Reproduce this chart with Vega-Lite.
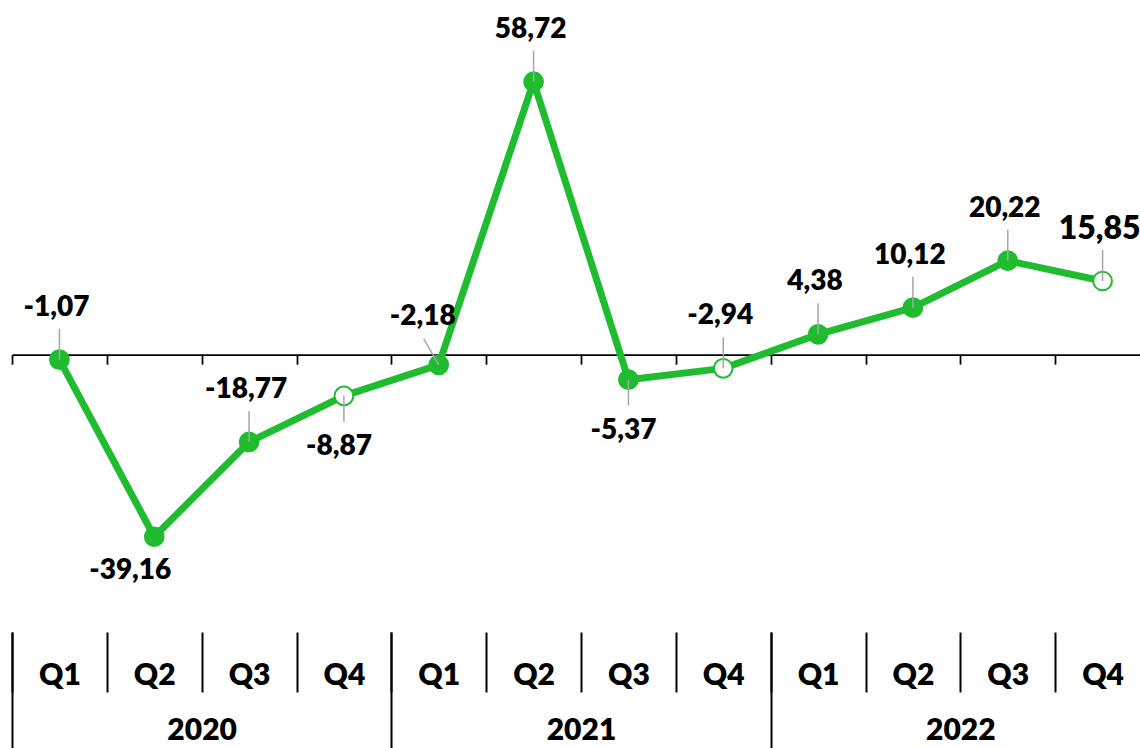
{
  "$schema": "https://vega.github.io/schema/vega-lite/v6.json",
  "width": 1140,
  "height": 632,
  "autosize": {"type": "none"},
  "padding": {"left": 0, "top": 0, "right": 0, "bottom": 116},
  "background": "white",
  "config": {
    "view": {"stroke": null},
    "font": "Lato",
    "locale": {"number": {"decimal": ",", "thousands": ".", "grouping": [3], "currency": ["", " €"], "minus": "-"}}
  },
  "data": {
    "values": [
      {"period": "2020-Q1", "year": "2020", "quarter": "Q1", "value": -1.07, "pos": "above"},
      {"period": "2020-Q2", "year": "2020", "quarter": "Q2", "value": -39.16, "pos": "below-left"},
      {"period": "2020-Q3", "year": "2020", "quarter": "Q3", "value": -18.77, "pos": "above"},
      {"period": "2020-Q4", "year": "2020", "quarter": "Q4", "value": -8.87, "pos": "below"},
      {"period": "2021-Q1", "year": "2021", "quarter": "Q1", "value": -2.18, "pos": "above-left"},
      {"period": "2021-Q2", "year": "2021", "quarter": "Q2", "value": 58.72, "pos": "above"},
      {"period": "2021-Q3", "year": "2021", "quarter": "Q3", "value": -5.37, "pos": "below"},
      {"period": "2021-Q4", "year": "2021", "quarter": "Q4", "value": -2.94, "pos": "above"},
      {"period": "2022-Q1", "year": "2022", "quarter": "Q1", "value": 4.38, "pos": "above"},
      {"period": "2022-Q2", "year": "2022", "quarter": "Q2", "value": 10.12, "pos": "above"},
      {"period": "2022-Q3", "year": "2022", "quarter": "Q3", "value": 20.22, "pos": "above"},
      {"period": "2022-Q4", "year": "2022", "quarter": "Q4", "value": 15.85, "pos": "above"}
    ]
  },
  "resolve": {"scale": {"x": "independent"}, "axis": {"x": "independent"}},
  "layer": [
    {
      "mark": {"type": "point", "opacity": 0},
      "encoding": {
        "x": {
          "field": "year", "type": "nominal", "sort": null,
          "scale": {"type": "band", "range": [12, 1150], "paddingInner": 0, "paddingOuter": 0},
          "axis": {
            "orient": "bottom", "offset": 0, "title": null, "grid": false, "domain": false,
            "ticks": true, "tickBand": "extent", "tickSize": 116, "tickWidth": 2, "tickColor": "#000000",
            "labelFont": "Lato", "labelFontWeight": 800, "labelFontSize": 30, "labelColor": "#000000",
            "labelAngle": 0, "labelBaseline": "middle", "labelPadding": -18, "labelOverlap": false
          }
        }
      }
    },
    {
      "mark": {"type": "point", "opacity": 0},
      "encoding": {
        "x": {
          "field": "period", "type": "nominal", "sort": null,
          "scale": {"type": "band", "range": [12, 1150], "paddingInner": 0, "paddingOuter": 0},
          "axis": {
            "orient": "bottom", "offset": 0, "title": null, "grid": false, "domain": false,
            "ticks": true, "tickBand": "extent", "tickSize": 60, "tickWidth": 2, "tickColor": "#000000",
            "labelExpr": "substring(datum.label, 5)",
            "labelFont": "Lato", "labelFontWeight": 800, "labelFontSize": 30, "labelColor": "#000000",
            "labelAngle": 0, "labelBaseline": "middle", "labelPadding": -17, "labelOverlap": false
          }
        }
      }
    },
    {
      "encoding": {
        "x": {
          "field": "period", "type": "nominal", "sort": null,
          "scale": {"type": "band", "range": [12, 1150], "paddingInner": 0, "paddingOuter": 0},
          "axis": {
            "orient": "bottom", "offset": -277.3, "title": null, "grid": false,
            "domain": true, "domainColor": "#000000", "domainWidth": 1.75,
            "ticks": true, "tickBand": "extent", "tickSize": 9.5, "tickWidth": 1.75, "tickColor": "#000000",
            "labels": false
          }
        },
        "y": {
          "field": "value", "type": "quantitative",
          "scale": {"domain": [-59.65, 76.3], "nice": false, "zero": false},
          "axis": null
        }
      },
      "layer": [
        {"mark": {"type": "line", "color": "#1FBC30", "strokeWidth": 7, "strokeJoin": "round"}},
        {
          "mark": {"type": "point", "shape": "circle", "filled": true, "size": 350, "stroke": "#1FBC30", "strokeWidth": 2, "opacity": 1},
          "encoding": {
            "fill": {"condition": {"test": "datum.quarter === 'Q4'", "value": "#ffffff"}, "value": "#1FBC30"}
          }
        },
        {
          "transform": [{"filter": "datum.pos === 'above'"}],
          "mark": {"type": "point", "shape": "M0,0L0,-1", "filled": false, "size": 3844, "stroke": "#A6A6A6", "strokeWidth": 1.5, "opacity": 1}
        },
        {
          "transform": [{"filter": "datum.pos === 'below'"}],
          "mark": {"type": "point", "shape": "M0,0L0,1", "filled": false, "size": 2704, "stroke": "#A6A6A6", "strokeWidth": 1.5, "opacity": 1}
        },
        {
          "transform": [{"filter": "datum.pos === 'above-left'"}],
          "mark": {"type": "point", "shape": "M0,0L-0.5,-0.866", "filled": false, "size": 3600, "stroke": "#A6A6A6", "strokeWidth": 1.5, "opacity": 1}
        },
        {
          "transform": [{"filter": "datum.pos === 'above'"}],
          "mark": {"type": "text", "font": "Lato", "fontWeight": 800, "color": "#000000", "align": "center", "baseline": "middle", "dx": -3, "dy": -52},
          "encoding": {
            "text": {"field": "value", "type": "quantitative", "format": ".2f"},
            "size": {"condition": {"test": "datum.period === '2022-Q4'", "value": 32}, "value": 28}
          }
        },
        {
          "transform": [{"filter": "datum.pos === 'above-left'"}],
          "mark": {"type": "text", "font": "Lato", "fontWeight": 800, "fontSize": 28, "color": "#000000", "align": "center", "baseline": "middle", "dx": -16, "dy": -48},
          "encoding": {"text": {"field": "value", "type": "quantitative", "format": ".2f"}}
        },
        {
          "transform": [{"filter": "datum.pos === 'below'"}],
          "mark": {"type": "text", "font": "Lato", "fontWeight": 800, "fontSize": 28, "color": "#000000", "align": "center", "baseline": "middle", "dx": -5, "dy": 51},
          "encoding": {"text": {"field": "value", "type": "quantitative", "format": ".2f"}}
        },
        {
          "transform": [{"filter": "datum.pos === 'below-left'"}],
          "mark": {"type": "text", "font": "Lato", "fontWeight": 800, "fontSize": 28, "color": "#000000", "align": "center", "baseline": "middle", "dx": -24, "dy": 34},
          "encoding": {"text": {"field": "value", "type": "quantitative", "format": ".2f"}}
        }
      ]
    }
  ]
}
